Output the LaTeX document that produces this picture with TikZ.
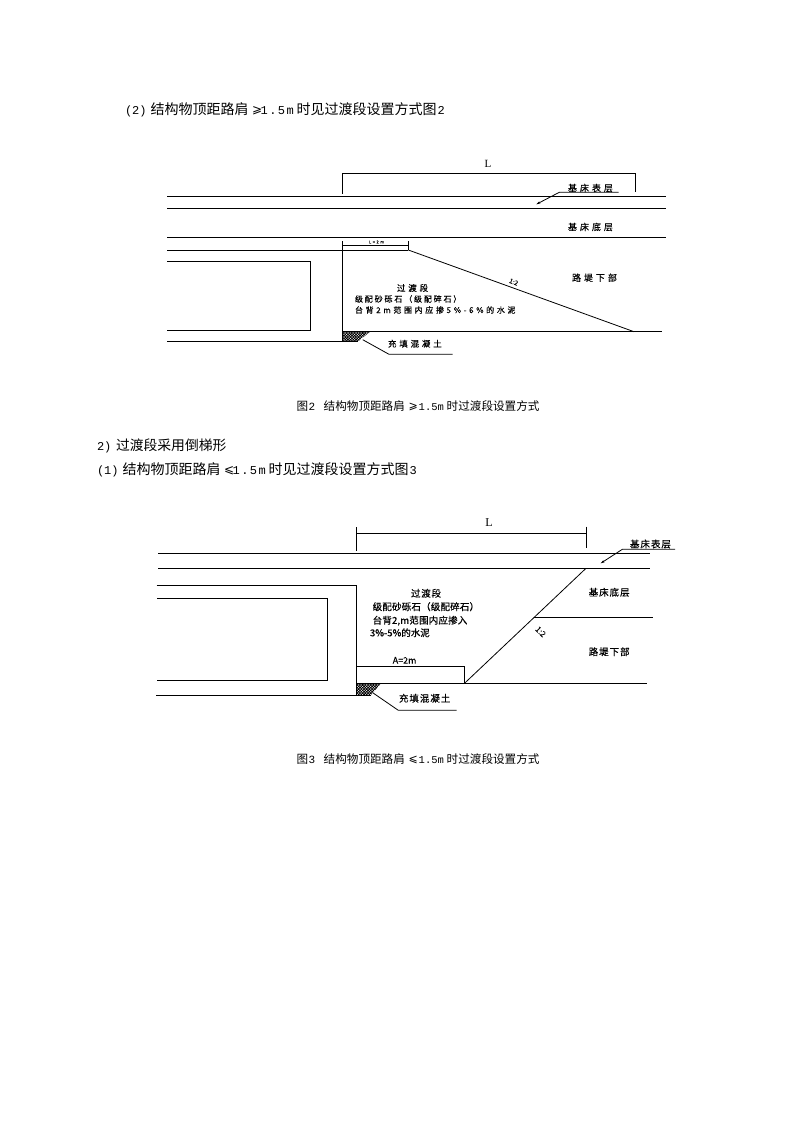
\documentclass[tikz,border=0pt]{standalone}
\usepackage{fontspec}
\setmainfont{Noto Sans CJK SC}
\newfontfamily\latf{Liberation Mono}
\newfontfamily\serf{Liberation Serif}
\newfontfamily\symf{DejaVu Sans}
\usetikzlibrary{arrows.meta,patterns.meta}
\newcommand\fs[2]{\fontsize{#1}{#1}\selectfont\addfontfeature{LetterSpace=#2,FakeBold=0.4}}
\newcommand\seg[2]{\makebox[#1pt][l]{#2}}
% body line: section number, "结构物顶距路肩", sign, "1.5m", remainder
\newcommand\bodyline[3]{\fontsize{14}{14}\selectfont
  \seg{25.7}{\fontsize{12}{12}\latf #1}\seg{101.5}{结构物顶距路肩}\seg{8.5}{\raisebox{1.2pt}{\fontsize{12}{12}\symf #2}}%
  \seg{36}{\fontsize{12}{12}\latf\addfontfeature{LetterSpace=12}1.5m}\seg{141}{时见过渡段设置方式图}{\fontsize{12}{12}\latf #3}}
\newcommand\capline[2]{\fontsize{11.6}{12}\selectfont
  \seg{12}{图}\seg{15}{\fontsize{11}{12}\latf #1}\seg{85}{结构物顶距路肩}\seg{10}{\raisebox{1pt}{\fontsize{11}{12}\symf #2}}%
  \seg{28}{\fontsize{10.5}{12}\latf 1.5m}{时过渡段设置方式}}
\tikzset{
  base/.style={line width=0.95pt,line cap=butt,line join=miter},
  thin line/.style={line width=0.8pt},
  lab/.style={inner sep=0pt,outer sep=0pt,anchor=west,text=black},
  cen/.style={inner sep=0pt,outer sep=0pt,anchor=center,text=black},
  hatchfill/.style={pattern={Hatch[angle=45,distance=1.9pt,line width=0.75pt]},pattern color=black},
  leader/.style={thin line,-{Stealth[length=4pt,width=2.4pt]}},
}
\begin{document}
\begin{tikzpicture}[x=1pt,y=-1pt,base]
\useasboundingbox[fill=white] (0,0) rectangle (794,1123);

% page text
\node[lab] (head2) at (125,110) {\bodyline{(2)}{⩾}{2}};
\node[lab] (capa) at (296.7,405.7) {\capline{2}{⩾}};
\node[lab] (sec2) at (97,446) {\seg{19}{\fontsize{12}{12}\latf 2)}\fontsize{13.8}{14}\selectfont 过渡段采用倒梯形};
\node[lab] (head1) at (97,470) {\bodyline{(1)}{⩽}{3}};
\node[lab] (capb) at (296.7,759) {\capline{3}{⩽}};

% ---------- figure 2 ----------
\draw (167,196.3) -- (666,196.3);
\draw (167,208.3) -- (666,208.3);
\draw (167,237.3) -- (666,237.3);
\draw (342.3,193.7) -- (342.3,173.3) -- (635.3,173.3) -- (635.3,191.7);
\draw (167,250) -- (408.3,250);
\draw (342.3,241) -- (342.3,341.3);
\draw (408.3,241) -- (408.3,250);
\draw (342.3,245.3) -- (408.3,245.3);
\draw (167,261.3) -- (310.7,261.3) -- (310.7,330.3) -- (167,330.3);
\draw (167,341.3) -- (358,341.3);
\draw (342.3,331.7) -- (661.7,331.7);
\draw[thin line] (408.3,250) -- (634,331.7);
\fill[hatchfill] (342.3,331.7) -- (370,331.7) -- (358,341.3) -- (342.3,341.3) -- cycle;
\draw[thin line] (362.7,339.7) -- (389,354.3) -- (452.7,354.3);
\draw[leader] (618.7,192.3) -- (559.3,192.3) -- (536.3,204.3);

\node[cen] (lblL) at (488,163.5) {\fontsize{11}{11}\serf L};
\node[cen] (lbl2m) at (376.5,242) {\fs{4}{40}L=2m};
\node[lab] (tb1) at (568,188) {\fs{9}{33}基床表层};
\node[lab] (tb2) at (568,227) {\fs{9}{33}基床底层};
\node[lab] (tb3) at (572,277.7) {\fs{9}{33}路堤下部};
\node[cen,rotate=-20] (ts1) at (513.7,282) {\fs{6.5}{0}1:2};
\node[lab] (tg1) at (397,288) {\fs{8.5}{33}过渡段};
\node[lab] (tg2) at (355,299) {\fs{8}{23}级配砂砾石（级配碎石）};
\node[lab] (tg3) at (355,310) {\fs{8}{33}台背2m范围内应掺5\%-6\%的水泥};
\node[lab] (tc1) at (388,343.7) {\fs{8.5}{33}充填混凝土};

% ---------- figure 3 ----------
\draw (158,553.3) -- (650,553.3);
\draw (158,568.3) -- (650,568.3);
\draw (356.3,550.7) -- (356.3,527.3);
\draw (356.3,533.3) -- (586.3,533.3);
\draw (586.3,526.7) -- (586.3,548.3);
\draw (156.7,585.3) -- (356.3,585.3) -- (356.3,695.3) -- (156,695.3);
\draw (157,598.3) -- (327.3,598.3) -- (327.3,680.3) -- (157,680.3);
\draw (356.3,666) -- (464.5,666) -- (464.5,683.3);
\draw (356.3,683.3) -- (646.7,683.3);
\draw[thin line] (464.5,683.3) -- (586,568.3);
\draw (534,617.3) -- (652.7,617.3);
\fill[hatchfill] (356.3,683.3) -- (381,683.3) -- (370.7,695.3) -- (356.3,695.3) -- cycle;
\draw (356.3,695.3) -- (370.7,695.3);
\draw[thin line] (372.7,692.7) -- (398.3,710.3) -- (456.7,710.3);
\draw[leader] (675,549.3) -- (622.3,549.3) -- (600.7,563.3);

\node[cen] (lblL2) at (489,522.7) {\fontsize{12}{12}\serf L};
\node[lab] (tb4) at (630,544) {\fs{9.5}{10}基床表层};
\node[lab] (tb5) at (588.7,592.3) {\fs{9.5}{10}基床底层};
\node[lab] (tb6) at (588.7,651.7) {\fs{9.5}{10}路堤下部};
\node[cen,rotate=-45] (ts2) at (540.7,631.7) {\fs{8}{0}1:2};
\node[lab] (tg4) at (411,593.3) {\fs{9.5}{8}过渡段};
\node[lab] (tg5) at (372.7,606.7) {\fs{9.5}{2}级配砂砾石（级配碎石）};
\node[lab] (tg6) at (372.7,620.7) {\fs{9.5}{2}台背2,m范围内应掺入};
\node[lab] (tg7) at (370,632.7) {\fs{9.5}{0}3\%-5\%的水泥};
\node[lab] (tg8) at (392.7,660.3) {\fs{9}{0}A=2m};
\node[lab] (tc2) at (399,698.3) {\fs{9.5}{10}充填混凝土};
\end{tikzpicture}
\end{document}
